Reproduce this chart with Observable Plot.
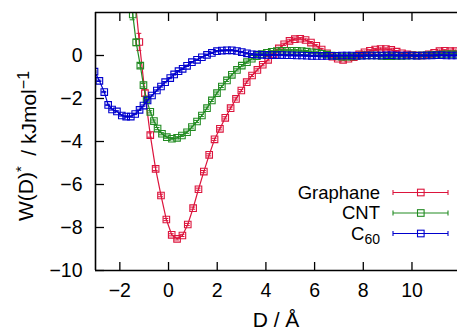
<!DOCTYPE html>
<html><head><meta charset="utf-8">
<script src="https://cdn.jsdelivr.net/npm/d3@7"></script>
<script src="https://cdn.jsdelivr.net/npm/@observablehq/plot@0.6"></script>
<style>
html,body{margin:0;padding:0;background:#fff;}
#chart{position:relative;width:457px;height:331px;overflow:hidden;}
</style></head><body><div id="chart"></div>
<script>
const xTicks = [-2, 0, 2, 4, 6, 8, 10];
const yTicks = [-10, -8, -6, -4, -2, 0];
const names = ["Graphane", "CNT", "C60"];
const colors = ["#dc143c", "#228b22", "#0000cd"];

const graphaneD = [-1.42,-1.20,-0.97,-0.75,-0.53,-0.31,-0.09,0.13,0.35,0.57,0.79,1.01,1.23,1.45,1.67,1.89,2.11,2.33,2.55,2.77,2.99,3.21,3.43,3.65,3.87,4.09,4.31,4.53,4.75,4.97,5.19,5.41,5.63,5.85,6.07,6.29,6.51,6.73,6.95,7.17,7.39,7.61,7.83,8.05,8.27,8.49,8.71,8.93,9.15,9.37,9.59,9.81,10.03,10.25,10.47,10.69,10.91,11.13,11.35,11.57,11.79,12.01];
const graphaneW = [3.2,0.63,-1.75,-3.70,-5.27,-6.51,-7.63,-8.34,-8.53,-8.37,-7.86,-7.10,-6.22,-5.40,-4.62,-3.90,-3.41,-2.90,-2.45,-2.02,-1.63,-1.24,-0.93,-0.67,-0.43,-0.20,0.05,0.33,0.52,0.68,0.76,0.78,0.72,0.60,0.45,0.28,0.10,-0.05,-0.15,-0.20,-0.15,-0.08,0.05,0.15,0.22,0.28,0.30,0.30,0.26,0.18,0.10,0.05,0.02,0.00,0.00,0.05,0.12,0.20,0.22,0.20,0.20,0.18];
const graphaneErr = [0.5,0.4,0.15,0.1,0.08,0.06,0.05,0.05,0.05,0.05,0.05,0.05,0.05,0.05,0.05,0.05,0.05,0.05,0.05,0.05,0.05,0.05,0.05,0.05,0.05,0.05,0.05,0.05,0.05,0.05,0.05,0.05,0.05,0.05,0.05,0.05,0.05,0.05,0.05,0.05,0.05,0.05,0.05,0.05,0.05,0.05,0.05,0.05,0.05,0.05,0.05,0.05,0.05,0.05,0.05,0.05,0.05,0.05,0.05,0.05,0.05,0.05];

const cntD = [-1.68,-1.47,-1.33,-1.16,-1.03,-0.90,-0.75,-0.60,-0.45,-0.27,-0.07,0.14,0.35,0.55,0.76,0.96,1.17,1.37,1.58,1.78,1.99,2.19,2.40,2.60,2.81,3.01,3.22,3.42,3.63,3.83,4.04,4.24,4.45,4.65,4.86,5.06,5.27,5.47,5.68,5.88,6.09,6.29,6.50,6.70,6.91,7.11,7.32,7.52,7.73,7.93,8.14,8.34,8.55,8.75,8.96,9.16,9.37,9.57,9.78,9.98,10.19,10.39,10.60,10.80,11.01,11.21,11.42,11.62,11.83,12.03];
const cntW = [4.6,1.91,0.61,-0.47,-1.38,-2.05,-2.62,-3.05,-3.40,-3.64,-3.80,-3.87,-3.83,-3.72,-3.57,-3.33,-3.07,-2.79,-2.45,-2.09,-1.75,-1.44,-1.16,-0.90,-0.67,-0.47,-0.31,-0.15,-0.03,0.07,0.13,0.17,0.20,0.22,0.22,0.22,0.22,0.20,0.18,0.15,0.12,0.08,0.04,0.00,-0.03,-0.05,-0.05,-0.04,-0.02,0.00,0.00,0.00,0.00,-0.02,-0.03,-0.03,-0.02,-0.02,-0.01,0.00,0.00,0.00,0.01,0.02,0.03,0.04,0.05,0.05,0.05,0.05];
const cntErr = [0.3,0.25,0.15,0.1,0.08,0.06,0.05,0.05,0.05,0.05,0.05,0.05,0.05,0.05,0.05,0.05,0.05,0.05,0.05,0.05,0.05,0.05,0.05,0.05,0.05,0.05,0.05,0.05,0.05,0.05,0.05,0.05,0.05,0.05,0.05,0.05,0.05,0.05,0.05,0.05,0.05,0.05,0.05,0.05,0.05,0.05,0.05,0.05,0.05,0.05,0.05,0.05,0.05,0.05,0.05,0.05,0.05,0.05,0.05,0.05,0.05,0.05,0.05,0.05,0.05,0.05,0.05,0.05,0.05,0.05];

const c60D = [-3.04,-2.84,-2.64,-2.48,-2.32,-2.12,-1.92,-1.74,-1.55,-1.37,-1.19,-1.03,-0.86,-0.68,-0.48,-0.31,-0.14,0.07,0.23,0.41,0.58,0.76,0.96,1.17,1.37,1.58,1.78,1.99,2.19,2.40,2.60,2.81,3.01,3.22,3.42,3.63,3.84,4.04,4.25,4.45,4.66,4.86,5.07,5.27,5.48,5.68,5.89,6.09,6.30,6.50,6.71,6.91,7.12,7.32,7.53,7.73,7.94,8.14,8.35,8.55,8.76,8.96,9.17,9.37,9.58,9.78,9.99,10.19,10.40,10.60,10.81,11.01,11.22,11.42,11.63,11.83,12.04];
const c60W = [-0.75,-1.18,-1.70,-2.30,-2.51,-2.60,-2.79,-2.84,-2.84,-2.72,-2.53,-2.33,-2.09,-1.86,-1.63,-1.44,-1.24,-1.05,-0.88,-0.73,-0.62,-0.48,-0.31,-0.20,-0.08,0.03,0.12,0.20,0.23,0.24,0.24,0.21,0.16,0.10,0.06,0.04,0.03,0.03,0.02,0.02,0.02,0.01,0.01,0.00,0.00,-0.01,-0.02,-0.02,-0.02,-0.02,-0.01,-0.01,0.00,0.00,0.00,-0.01,-0.01,0.00,0.00,0.00,0.00,0.01,0.01,0.00,0.00,0.00,0.00,-0.01,0.00,0.00,0.00,0.01,0.01,0.00,0.00,0.00,0.00];
const c60Err = c60D.map(() => 0.03);

const series = [
  {name: names[0], D: graphaneD, W: graphaneW, err: graphaneErr},
  {name: names[1], D: cntD, W: cntW, err: cntErr},
  {name: names[2], D: c60D, W: c60W, err: c60Err}
];
const rows = series.map(s => s.D.map((d, i) => ({series: s.name, D: d, W: s.W[i], err: s.err[i]})));

const fmt = d => d < 0 ? "\u2212" + Math.abs(d) : String(d);
const FONT = "'Liberation Sans', Arial, Helvetica, sans-serif";

const seriesMarks = rows.flatMap(r => [
  Plot.line(r, {x: "D", y: "W", stroke: "series", strokeWidth: 1.2, clip: true}),
  Plot.ruleX(r, {x: "D", y1: d => d.W - d.err, y2: d => d.W + d.err, stroke: "series", strokeWidth: 1, clip: true}),
  Plot.ruleY(r, {y: d => d.W + d.err, x1: "D", x2: "D", insetLeft: -2.5, insetRight: -2.5, stroke: "series", strokeWidth: 1, clip: true}),
  Plot.ruleY(r, {y: d => d.W - d.err, x1: "D", x2: "D", insetLeft: -2.5, insetRight: -2.5, stroke: "series", strokeWidth: 1, clip: true}),
  Plot.dot(r, {x: "D", y: "W", symbol: "square", r: 3.7, stroke: "series", strokeWidth: 1.1, clip: true})
]);

const plot = Plot.plot({
  width: 457, height: 331,
  marginLeft: 95, marginRight: 0, marginTop: 12, marginBottom: 61,
  style: {fontFamily: FONT, fontSize: "19.5px", background: "white", color: "black"},
  x: {domain: [-3, 11.87]},
  y: {domain: [-10, 2]},
  color: {domain: names, range: colors},
  marks: [
    ...seriesMarks,
    Plot.axisX(xTicks, {anchor: "bottom", tickSize: -8, tickPadding: 21, tickFormat: fmt, label: null, strokeWidth: 1.3, fontSize: 19.5}),
    Plot.axisX(xTicks, {anchor: "top", tickSize: -8, tickFormat: () => "", label: null, strokeWidth: 1.3}),
    Plot.axisY(yTicks, {anchor: "left", tickSize: -9, tickPadding: 22, tickFormat: fmt, label: null, strokeWidth: 1.3, fontSize: 19.5}),
    Plot.ruleY([-10, 2], {strokeWidth: 1.6}),
    Plot.ruleX([-3], {strokeWidth: 1.6})
  ]
});
document.getElementById("chart").appendChild(plot);

const svg = d3.select(plot);
// y-axis label
const yl = svg.append("text")
  .attr("transform", "translate(33,146) rotate(-90)")
  .attr("text-anchor", "middle")
  .style("font-family", FONT).style("font-size", "21px").attr("fill", "black");
yl.append("tspan").text("W(D)");
yl.append("tspan").attr("dy", "-0.5em").style("font-size", "15px").text("*");
yl.append("tspan").attr("dy", "0.5em").text("\u2002/ kJmol");
yl.append("tspan").attr("dy", "-0.45em").style("font-size", "16px").text("\u22121");
// x-axis label
svg.append("text").attr("x", 276).attr("y", 327).attr("text-anchor", "middle")
  .style("font-family", FONT).style("font-size", "21px").attr("fill", "black").text("D / \u00c5");

// legend
const legY = [192.5, 213, 233.5];
names.forEach((n, i) => {
  const y = legY[i];
  const t = svg.append("text").attr("x", 380).attr("y", y + 6.3).attr("text-anchor", "end")
    .style("font-family", FONT).style("font-size", "18.5px").attr("fill", "black");
  if (n === "C60") {
    t.append("tspan").text("C");
    t.append("tspan").attr("dy", "0.3em").style("font-size", "14px").text("60");
  } else t.text(n);
  const g = svg.append("g").attr("stroke", colors[i]).attr("fill", "none").attr("stroke-width", 1.1);
  g.append("line").attr("x1", 393).attr("x2", 448).attr("y1", y).attr("y2", y);
  g.append("line").attr("x1", 393).attr("x2", 393).attr("y1", y - 2.5).attr("y2", y + 2.5);
  g.append("line").attr("x1", 448).attr("x2", 448).attr("y1", y - 2.5).attr("y2", y + 2.5);
  g.append("rect").attr("x", 417.5).attr("y", y - 3.3).attr("width", 6.6).attr("height", 6.6);
});
</script></body></html>
